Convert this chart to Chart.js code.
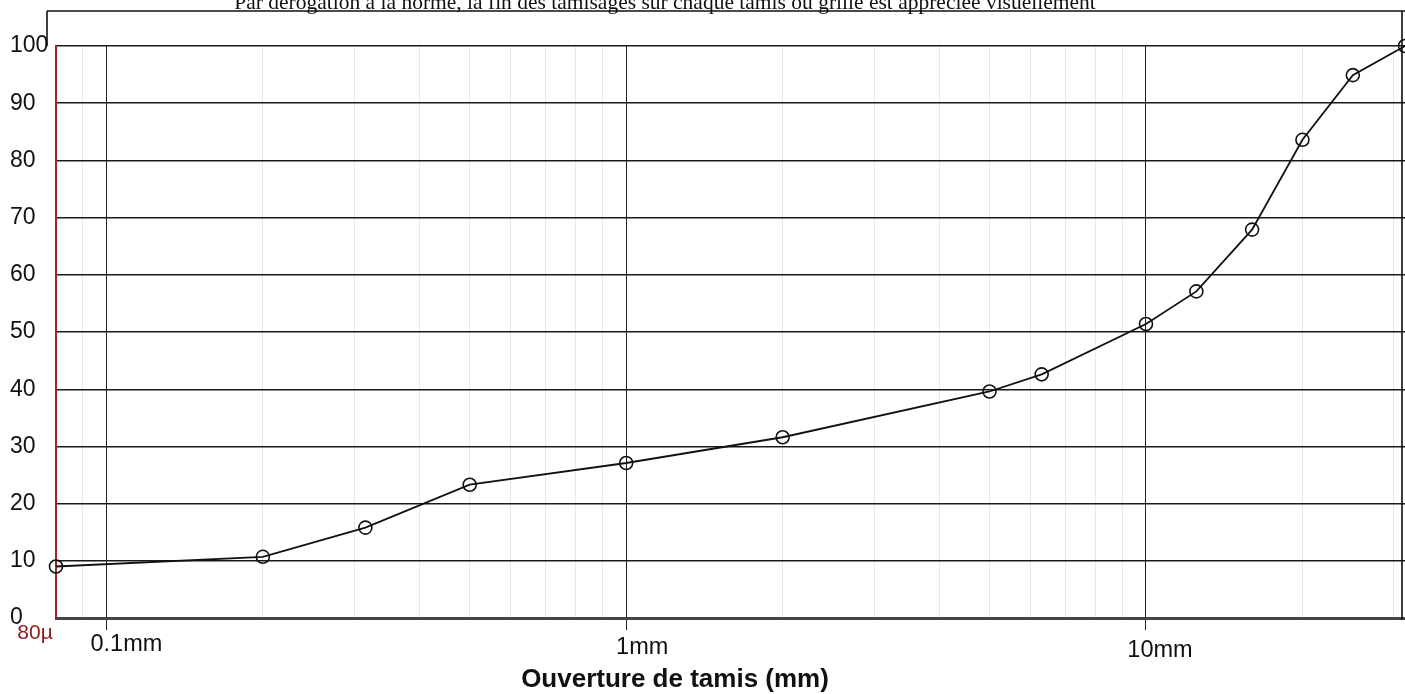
<!DOCTYPE html>
<html>
<head>
<meta charset="utf-8">
<script src="https://cdn.jsdelivr.net/npm/chart.js@4/dist/chart.umd.min.js"></script>
<style>
  html, body { margin: 0; padding: 0; background: #fff; }
  #wrap { width: 1405px; height: 694px; }
</style>
</head>
<body>
<div id="wrap"><canvas id="granulo" width="1405" height="694"></canvas></div>
<script>
// sieve openings (mm) and cumulative passing (%)
const sieveSizes = [0.08, 0.2, 0.315, 0.5, 1, 2, 5, 6.3, 10, 12.5, 16, 20, 25, 31.5];
const passing = [9.0, 10.7, 15.8, 23.3, 27.1, 31.6, 39.6, 42.6, 51.4, 57.1, 67.9, 83.6, 94.9, 100];

const majorTicks = [0.1, 1, 10];
const minorTicks = [0.09, 0.2, 0.3, 0.4, 0.5, 0.6, 0.7, 0.8, 0.9, 2, 3, 4, 5, 6, 7, 8, 9, 20, 30];
const xLabels = [
  { value: 0.08, text: "80µ", dx: -21, dy: 15, color: "#8b1a1a", size: 21 },
  { value: 0.1, text: "0.1mm", dx: 20, dy: 27, color: "#111", size: 23.5 },
  { value: 1, text: "1mm", dx: 16, dy: 30, color: "#111", size: 23.5 },
  { value: 10, text: "10mm", dx: 14, dy: 33, color: "#111", size: 23.5 }
];
const yTicks = [0, 10, 20, 30, 40, 50, 60, 70, 80, 90, 100];

const titleText = "Par dérogation à la norme, la fin des tamisages sur chaque tamis ou grille est appréciée visuellement";
const axisTitle = "Ouverture de tamis (mm)";

const decorPlugin = {
  id: "decor",
  afterDraw(chart) {
    const ctx = chart.ctx;
    const area = chart.chartArea;
    const xs = chart.scales.x;
    ctx.save();
    // outer frame
    ctx.strokeStyle = "#111";
    ctx.lineWidth = 1.6;
    ctx.beginPath();
    ctx.moveTo(area.left - 9, 11);
    ctx.lineTo(1405, 11);
    ctx.moveTo(area.left - 9, 11);
    ctx.lineTo(area.left - 9, area.top);
    ctx.moveTo(1402, 11);
    ctx.lineTo(1402, area.bottom + 2);
    ctx.stroke();
    // header note
    ctx.fillStyle = "#111";
    ctx.font = '21.5px "Liberation Serif", "Times New Roman", serif';
    ctx.textAlign = "center";
    ctx.textBaseline = "alphabetic";
    ctx.fillText(titleText, 665, 9);
    // x labels
    xLabels.forEach(l => {
      ctx.fillStyle = l.color;
      ctx.font = l.size + 'px "Liberation Sans", Arial, sans-serif';
      ctx.textBaseline = "middle";
      ctx.fillText(l.text, xs.getPixelForValue(l.value) + l.dx, area.bottom + l.dy);
    });
    // axis title
    ctx.fillStyle = "#111";
    ctx.font = 'bold 26px "Liberation Sans", Arial, sans-serif';
    ctx.fillText(axisTitle, 675, 680);
    ctx.restore();
  }
};

new Chart(document.getElementById("granulo"), {
  type: "line",
  data: {
    datasets: [{
      data: sieveSizes.map((s, i) => ({ x: s, y: passing[i] })),
      borderColor: "#111",
      borderWidth: 1.8,
      pointRadius: 6.5,
      pointBorderWidth: 1.6,
      pointBorderColor: "#111",
      pointBackgroundColor: "rgba(0,0,0,0)",
      tension: 0,
      clip: false
    }]
  },
  plugins: [decorPlugin],
  options: {
    responsive: false,
    animation: false,
    layout: { autoPadding: false, padding: { left: 10, top: 46, right: 0, bottom: 0 } },
    plugins: { legend: { display: false }, tooltip: { enabled: false } },
    scales: {
      x: {
        type: "logarithmic",
        min: 0.08,
        max: 31.5,
        afterBuildTicks: s => {
          s.ticks = majorTicks.concat(minorTicks).sort((a, b) => a - b).map(v => ({ value: v }));
        },
        afterFit: s => { s.height = 76; },
        ticks: { display: false },
        grid: {
          color: c => majorTicks.includes(c.tick.value) ? "#222" : "#e8e8e8",
          lineWidth: 1,
          tickLength: 12,
          tickColor: c => majorTicks.includes(c.tick.value) ? "#222" : "rgba(0,0,0,0)"
        },
        border: { display: true, color: "#444", width: 3 }
      },
      y: {
        min: 0,
        max: 100,
        afterBuildTicks: s => { s.ticks = yTicks.map(v => ({ value: v })); },
        afterFit: s => { s.width = 46; },
        ticks: {
          crossAlign: "far",
          color: "#111",
          font: { family: '"Liberation Sans", Arial, sans-serif', size: 23 }
        },
        grid: {
          color: "#1a1a1a",
          lineWidth: c => c.tick.value === 0 ? 0 : 1.4,
          drawTicks: false
        },
        border: { display: true, color: "#9a2a20", width: 2 }
      }
    }
  }
});
</script>
</body>
</html>
